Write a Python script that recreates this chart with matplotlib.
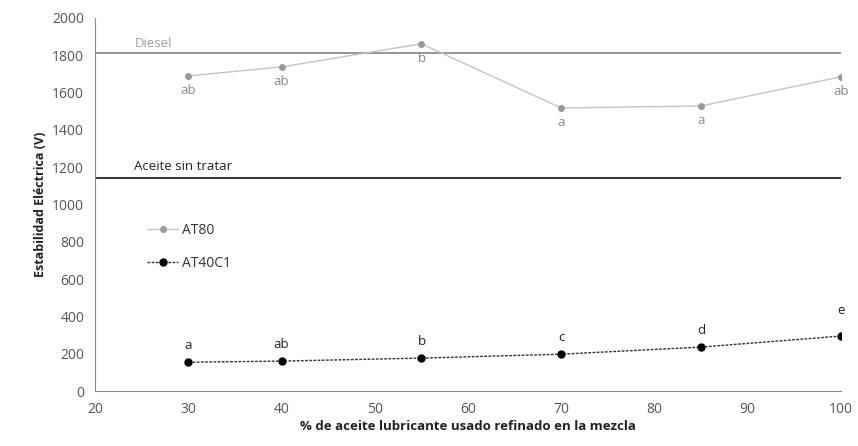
import matplotlib
matplotlib.use('Agg')
import matplotlib.pyplot as plt

plt.rcParams['font.family'] = ['Open Sans', 'DejaVu Sans']

# Datos
pct = [30, 40, 55, 70, 85, 100]
at80 = [1689, 1737, 1861, 1517, 1528, 1684]
at40c1 = [155, 161, 177, 198, 236, 295]
letras_at80 = ['ab', 'ab', 'b', 'a', 'a', 'ab']
letras_at40c1 = ['a', 'ab', 'b', 'c', 'd', 'e']
diesel = 1812
aceite_sin_tratar = 1142

fig = plt.figure(figsize=(8.58, 4.46), dpi=100)
ax = fig.add_axes([0.111, 0.123, 0.869, 0.837])

ax.axhline(diesel, color='#8c8c8c', lw=1.3)
ax.axhline(aceite_sin_tratar, color='#3a3a3a', lw=1.5)
ax.text(24.2, diesel + 15, 'Diesel', color='#a0a0a0', fontsize=9.5, va='bottom')
ax.text(24.2, aceite_sin_tratar + 25, 'Aceite sin tratar', color='#222222', fontsize=9.5, va='bottom')

ax.plot(pct, at80, color='#c4c4c4', lw=1, marker='o', ms=4,
        mfc='#9a9a9a', mec='#9a9a9a', label='AT80')
ax.plot(pct, at40c1, color='#333333', lw=1, ls=(0, (2, 1)), marker='o', ms=5,
        mfc='black', mec='black', label='AT40C1')

for x, y, t in zip(pct, at80, letras_at80):
    ax.text(x, y - 45, t, ha='center', va='top', color='#8a8a8a', fontsize=9.5)
for x, y, t in zip(pct, at40c1, letras_at40c1):
    dy = 100 if t == 'e' else 55
    ax.text(x, y + dy, t, ha='center', va='bottom', color='#222222', fontsize=9.5)

ax.set_xlim(20, 100)
ax.set_ylim(0, 2000)
ax.set_xticks(range(20, 101, 10))
ax.set_yticks(range(0, 2001, 200))
ax.tick_params(length=0, labelsize=10, colors='#555555', pad=8)
for s in ['top', 'right']:
    ax.spines[s].set_visible(False)
for s in ['left', 'bottom']:
    ax.spines[s].set_color('#8c8c8c')

ax.set_xlabel('% de aceite lubricante usado refinado en la mezcla',
              fontsize=9.5, fontweight='bold', color='#222222', labelpad=2)
ax.set_ylabel('Estabilidad Eléctrica (V)', fontsize=9, fontweight='bold',
              color='#222222', labelpad=4)

ax.legend(loc='upper left', bbox_to_anchor=(0.07, 0.45), frameon=False,
          borderaxespad=0, borderpad=0, fontsize=10, handlelength=2.2,
          labelspacing=1.3, handletextpad=0.3, labelcolor='#333333')

fig.savefig('out.png', dpi=100)
